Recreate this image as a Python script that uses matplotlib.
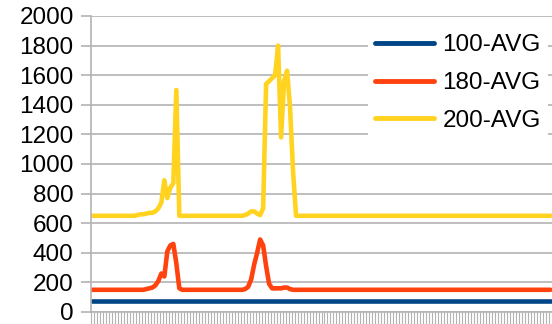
import matplotlib
matplotlib.use("Agg")
import matplotlib.pyplot as plt
import numpy as np

plt.rcParams['font.family'] = ['Liberation Sans', 'DejaVu Sans']

labels = ["100-AVG", "180-AVG", "200-AVG"]
colors = ["#004586", "#ff420e", "#ffd320"]

avg100 = [75] * 154

avg180 = ([150] * 18
          + [155, 160, 165, 180, 210, 260, 240, 410, 450, 460, 330, 160]
          + [150] * 21
          + [155, 170, 220, 320, 400, 490, 450, 310, 190, 160, 160, 160, 160, 165, 165, 155]
          + [150] * 87)

avg200 = ([650] * 15
          + [655, 660, 660, 665, 670, 670, 680, 700, 740, 890, 770, 840, 870, 1500, 650]
          + [650] * 21
          + [655, 665, 680, 680, 665, 655, 700, 1540, 1560, 1580, 1600, 1800, 1180, 1560, 1630, 1380, 950, 650]
          + [650] * 85)

series = [avg100, avg180, avg200]
yticks = list(range(0, 2001, 200))

n = len(avg100)
x = np.arange(n)

fig = plt.figure(figsize=(5.52, 3.24), dpi=100)
ax = fig.add_axes([91/552, 12/324, (552-91)/552, (312-16)/324])

for vals, lab, col in zip(series, labels, colors):
    ax.plot(x, vals, color=col, lw=3.3, label=lab, solid_joinstyle='round', solid_capstyle='round')

ax.set_xlim(-0.5, n - 0.5)
ax.set_ylim(0, 2000)
ax.set_yticks(yticks)
ax.set_xticks(np.arange(n + 1) - 0.5)
ax.set_xticklabels([])
ax.yaxis.grid(True, color="#b3b3b3", lw=1.2)
ax.set_axisbelow(True)
for s in ["top", "right"]:
    ax.spines[s].set_visible(False)
ax.spines["left"].set_color("#b3b3b3")
ax.spines["bottom"].set_color("#b3b3b3")
ax.spines["left"].set_linewidth(1.2)
ax.spines["bottom"].set_linewidth(1.2)
ax.tick_params(axis='y', length=7.5, width=1.2, color="#b3b3b3", labelsize=17.5, pad=5, labelcolor="#000000")
ax.tick_params(axis='x', length=9, width=0.8, color="#b3b3b3")

leg = ax.legend(loc='upper left', bbox_to_anchor=(0.601, 0.963), frameon=True, fontsize=17.5,
                handlelength=2.43, handletextpad=0.33, labelspacing=0.65, borderpad=0.3,
                borderaxespad=0)
leg.get_frame().set_edgecolor('none')
leg.get_frame().set_facecolor('white')
leg.get_frame().set_alpha(1)
for line in leg.get_lines():
    line.set_linewidth(3.5)

fig.savefig("out.png", dpi=100)
